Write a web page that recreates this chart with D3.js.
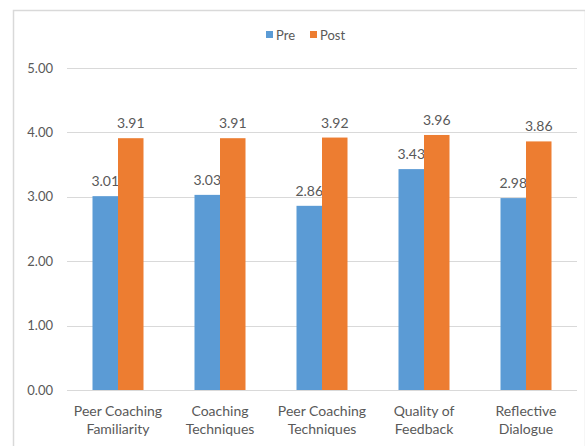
<!DOCTYPE html>
<html>
<head>
<meta charset="utf-8">
<script src="https://cdn.jsdelivr.net/npm/d3@7"></script>
<style>
  html, body { margin: 0; padding: 0; background: #fff; }
  svg { display: block; }
  text { font-family: Lato, "Liberation Sans", Arial, sans-serif; fill: #595959; }
</style>
</head>
<body>
<svg id="chart" width="585" height="446"></svg>
<script>
const categories = [
  ["Peer Coaching", "Familiarity"],
  ["Coaching", "Techniques"],
  ["Peer Coaching", "Techniques"],
  ["Quality of", "Feedback"],
  ["Reflective", "Dialogue"]
];
const seriesNames = ["Pre", "Post"];
const preValues = [3.01, 3.03, 2.86, 3.43, 2.98];
const postValues = [3.91, 3.91, 3.92, 3.96, 3.86];
const yTicks = [0, 1, 2, 3, 4, 5];
const colors = ["#5B9BD5", "#ED7D31"];

const svg = d3.select("#chart");
const W = 585, H = 446;
const plot = { left: 67, right: 577, top: 68, bottom: 390 };

// chart frame
svg.append("rect").attr("x", 13.5).attr("y", 10.5).attr("width", W - 13).attr("height", H - 4)
  .attr("fill", "#fff").attr("stroke", "#d9d9d9").attr("stroke-width", 1.5);

const keys = categories.map(c => c.join(" "));
const x = d3.scaleBand().domain(keys).range([plot.left, plot.right]).paddingInner(0.5).paddingOuter(0.25);
const xs = d3.scaleBand().domain(seriesNames).range([0, x.bandwidth()]);
const y = d3.scaleLinear().domain([0, 5]).range([plot.bottom, plot.top]);

// gridlines
svg.append("g").selectAll("line").data(yTicks).join("line")
  .attr("x1", plot.left).attr("x2", plot.right)
  .attr("y1", d => Math.round(y(d)) + 0.5).attr("y2", d => Math.round(y(d)) + 0.5)
  .attr("stroke", "#d9d9d9").attr("stroke-width", 1);

// y axis labels
const yAxis = d3.axisLeft(y).tickValues(yTicks).tickFormat(d3.format(".2f")).tickSize(0).tickPadding(0);
const ya = svg.append("g").attr("transform", `translate(53,0)`).call(yAxis);
ya.select(".domain").remove();
ya.selectAll("text").style("font-size", "13px").attr("fill", "#595959")
  .style("font-family", "Lato, 'Liberation Sans', Arial, sans-serif");

// bars
const series = [preValues, postValues];
series.forEach((vals, si) => {
  const g = svg.append("g");
  g.selectAll("rect").data(vals).join("rect")
    .attr("x", (d, i) => x(keys[i]) + xs(seriesNames[si]))
    .attr("width", xs.bandwidth())
    .attr("y", d => y(d))
    .attr("height", d => y(0) - y(d))
    .attr("fill", colors[si]);
  g.selectAll("text").data(vals).join("text")
    .attr("x", (d, i) => x(keys[i]) + xs(seriesNames[si]) + xs.bandwidth() / 2)
    .attr("y", d => y(d) - 10)
    .attr("text-anchor", "middle")
    .style("font-size", "14px")
    .attr("fill", "#505050")
    .text(d => d3.format(".2f")(d));
});

// baseline
svg.append("line").attr("x1", plot.left).attr("x2", plot.right)
  .attr("y1", y(0) + 0.5).attr("y2", y(0) + 0.5).attr("stroke", "#d9d9d9");

// category labels
const xl = svg.append("g");
categories.forEach((lines, i) => {
  const t = xl.append("text")
    .attr("x", x(keys[i]) + x.bandwidth() / 2)
    .attr("y", 416)
    .attr("text-anchor", "middle")
    .style("font-size", "14px");
  lines.forEach((ln, j) => {
    t.append("tspan").attr("x", x(keys[i]) + x.bandwidth() / 2).attr("dy", j === 0 ? 0 : 18).text(ln);
  });
});

// legend
const legend = svg.append("g").attr("transform", "translate(266,35)");
const legItems = [{ name: "Pre", x: 0 }, { name: "Post", x: 44 }];
legItems.forEach((it, i) => {
  legend.append("rect").attr("x", it.x).attr("y", -4).attr("width", 7).attr("height", 7).attr("fill", colors[i]);
  legend.append("text").attr("x", it.x + 10).attr("y", 4.5).style("font-size", "13px").text(it.name);
});
</script>
</body>
</html>
